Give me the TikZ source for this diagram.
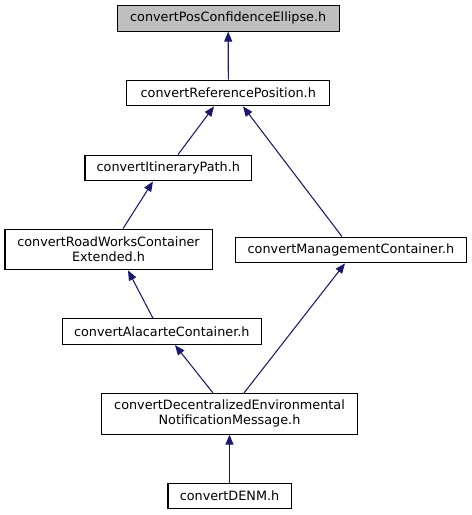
\documentclass[tikz,border=0pt]{standalone}
\usepackage{fontspec}
\setmainfont{DejaVu Sans}
\usetikzlibrary{calc,arrows.meta}

\definecolor{edgeblue}{HTML}{191970}
\definecolor{curgray}{HTML}{BFBFBF}

\tikzset{
  filebox/.style={draw=black, fill=white, line width=0.8pt, align=center,
    minimum height=19.3pt, inner sep=2pt,
    font=\fontsize{9.6}{11.3}\selectfont},
  inclink/.style={draw=edgeblue, line width=0.8pt,
    -{Triangle[length=7.5pt,width=6pt]}}
}

\begin{document}
\begin{tikzpicture}[x=0.75pt, y=-0.75pt]
\useasboundingbox (0,0) rectangle (472,515);

% files
\node[filebox, fill=curgray, minimum width=166.3pt] (posconf) at (228.2,18.2) {convertPosConfidenceEllipse.h};
\node[filebox, minimum width=152.3pt] (refpos) at (228.3,93) {convertReferencePosition.h};
\node[filebox, minimum width=125pt] (itin) at (168.3,168) {convertItineraryPath.h};
\node[filebox, minimum width=155.3pt, minimum height=30.5pt] (roadw) at (108.5,249.5) {convertRoadWorksContainer\\Extended.h};
\node[filebox, minimum width=173.8pt] (mgmt) at (351,250) {convertManagementContainer.h};
\node[filebox, minimum width=149.3pt] (alac) at (161.8,331.7) {convertAlacarteContainer.h};
\node[filebox, minimum width=191.7pt, minimum height=30.5pt] (denmsg) at (229.5,413.8) {convertDecentralizedEnvironmental\\NotificationMessage.h};
\node[filebox, minimum width=92.3pt] (denm) at (229.5,496) {convertDENM.h};

% includes (from/shift -> to/shift)
\foreach \from/\fx/\to/\tx in {refpos/0/posconf/0, itin/9.7/refpos/-14.3,
    mgmt/-9/refpos/14.7, roadw/14.5/itin/-15.3, alac/-8.8/roadw/19.5,
    denmsg/-16.5/alac/13.2, denmsg/14.5/mgmt/-6, denm/0/denmsg/0} {
  \draw[inclink] ($(\from.north)+(\fx,0)$) -- ($(\to.south)+(\tx,0)$);
}

\end{tikzpicture}
\end{document}
